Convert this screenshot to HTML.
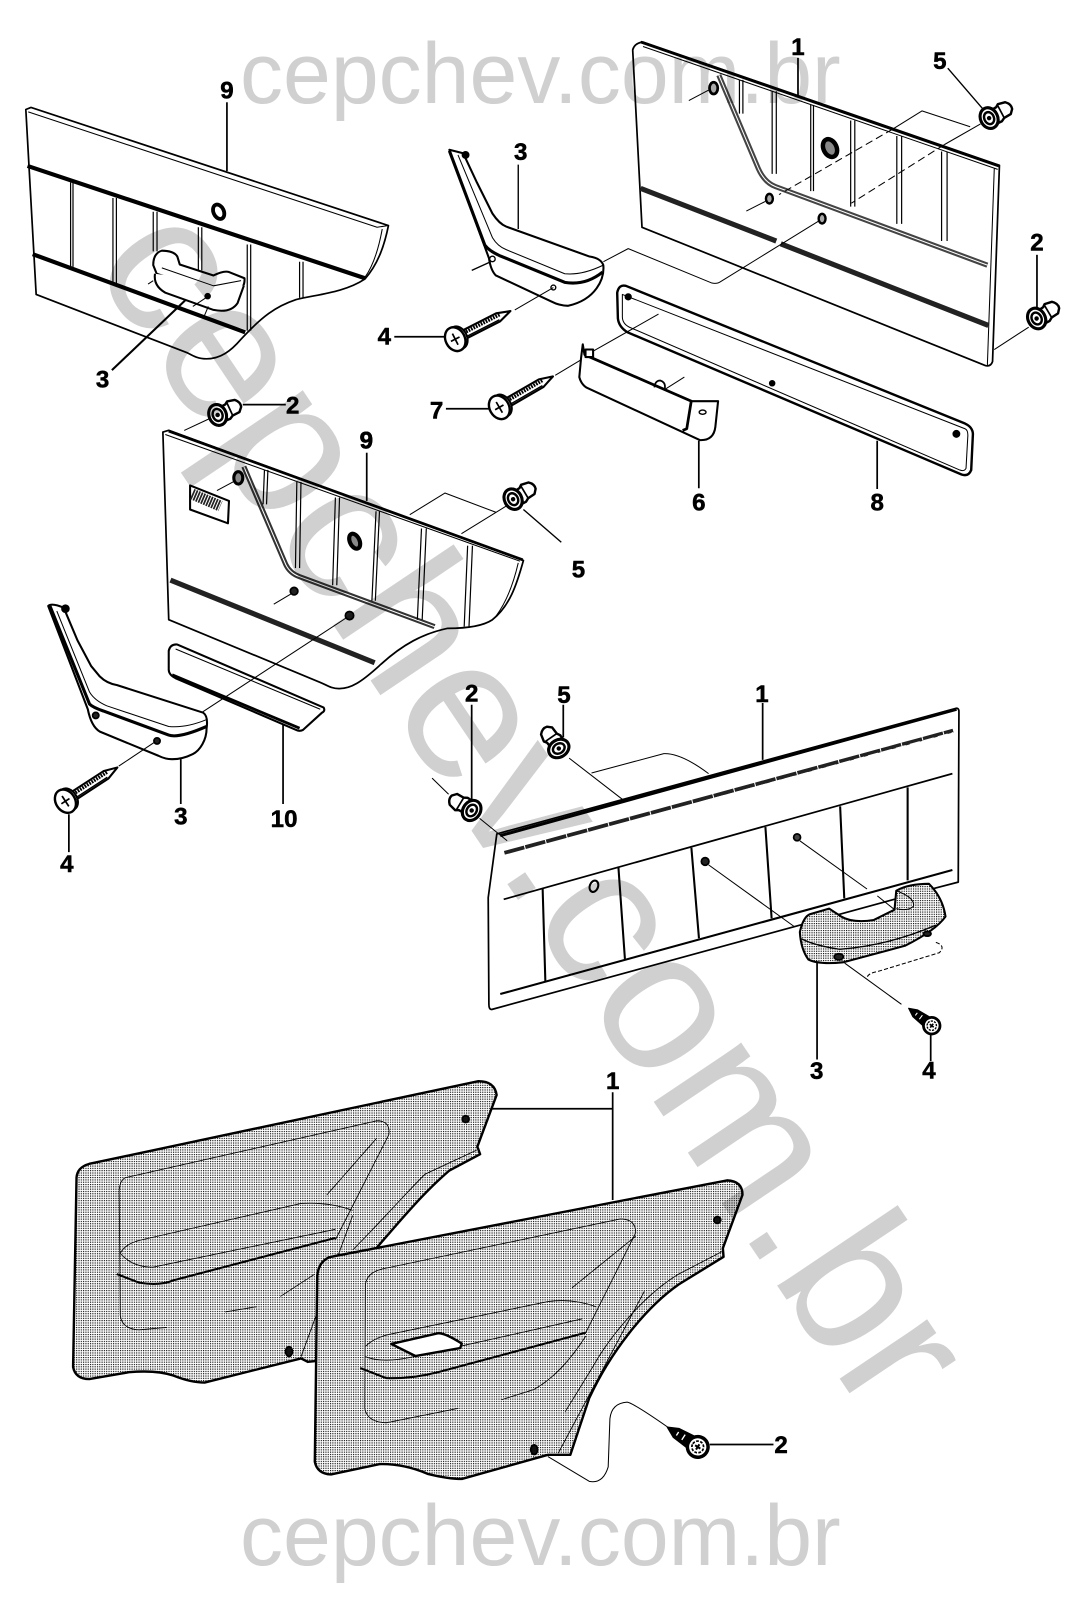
<!DOCTYPE html>
<html><head><meta charset="utf-8"><style>
html,body{margin:0;padding:0;background:#fff}
svg{display:block}
text{font-family:"Liberation Sans",sans-serif}
.n{font-weight:bold;font-size:70px;text-anchor:middle;fill:#000;stroke:#000;stroke-width:1.5}
</style></head><body>
<svg width="1078" height="1604" viewBox="0 0 1078 1604" xmlns="http://www.w3.org/2000/svg">
<defs>
<pattern id="d" patternUnits="userSpaceOnUse" width="6.7" height="6.7"><rect width="6.7" height="6.7" fill="#fff"/><rect width="3.3" height="3.3" fill="#000"/></pattern>
<g id="screw">
<path d="M20 -13 L140 -13 L180 0 L140 13 L20 13 Z" fill="#fff" stroke="#000" stroke-width="6"/>
<path d="M30 -5 L150 -5" stroke="#000" stroke-width="10" stroke-dasharray="5 3" fill="none"/>
<path d="M25 8 L140 8" stroke="#000" stroke-width="4" fill="none"/>
<ellipse cx="10" rx="25" ry="34" fill="#fff" stroke="#000" stroke-width="6"/>
<ellipse cx="0" rx="28" ry="36" fill="#fff" stroke="#000" stroke-width="7"/>
<path d="M-14 0H14M0 -18V18" stroke="#000" stroke-width="5"/>
</g>
<g id="sscrew">
<path d="M15 -20 L75 -15 L105 0 L75 15 L15 22 Z" fill="#000" stroke="#000" stroke-width="4"/>
<path d="M30 -8L30 10M50 -8L50 10M70 -6L70 6" stroke="#fff" stroke-width="4"/>
<circle r="30" fill="#fff" stroke="#000" stroke-width="10"/>
<circle r="17" fill="none" stroke="#000" stroke-width="5" stroke-dasharray="8 4"/>
<path d="M-9 0H9M0 -9V9" stroke="#000" stroke-width="6"/>
</g>
<g id="clip">
<path d="M5 -17 L32 -20 L40 -26 L62 -22 Q76 -10 72 4 L62 16 L40 18 L30 24 L5 24 Z" fill="#fff" stroke="#000" stroke-width="7"/>
<path d="M38 -24 L40 18" stroke="#000" stroke-width="5"/>
<ellipse cx="6" rx="20" ry="30" fill="#fff" stroke="#000" stroke-width="6"/>
<ellipse cx="0" rx="25" ry="31" fill="#fff" stroke="#000" stroke-width="9"/>
<ellipse rx="14" ry="18" fill="#fff" stroke="#000" stroke-width="7"/>
<circle r="4" fill="#000"/>
</g>
</defs>
<rect width="1078" height="1604" fill="#fff"/>

<!-- frame 1: top-left -->
<g transform="scale(.34435)" fill="none" stroke="#000" stroke-width="5" stroke-linejoin="round">
<path d="M75 318 L90 312 L1128 655 C1115 720 1095 770 1060 810 C1000 850 920 855 860 870 C800 890 760 920 700 985 C670 1020 640 1042 600 1042 C575 1042 560 1033 545 1025 L105 855 Z" fill="#fff"/>
<path d="M82 325 L1095 660 L1128 655 M1110 665 C1100 720 1085 770 1060 805" stroke-width="3"/>
<path d="M80 482 L1060 808 M95 738 L712 965" stroke-width="12"/>
<path d="M205 530V775M212 530V775M328 575V825M338 575V825M445 615V730M456 615V730M576 660V785M586 660V785M718 710V960M728 710V960M870 760V865M880 760V865" stroke-width="3.5"/>
<ellipse cx="635" cy="615" rx="15" ry="22" transform="rotate(-25 635 615)" stroke-width="11" fill="#fff"/>
<path d="M445 770 Q445 735 470 728 Q505 728 515 745 L522 768 L620 800 Q650 785 665 790 L710 808 Q712 835 690 845 Q650 860 620 850 L455 795 Z" fill="#fff" stroke-width="6"/>
<path d="M450 795 Q445 830 480 850 L620 900 Q670 910 690 880 L708 830" fill="#fff" stroke-width="6"/>
<path d="M470 778 L620 830 L700 815" stroke-width="3"/>
<path d="M430 825 L445 815 M560 890 L605 860 M605 890 L590 925" stroke-width="3"/>
<circle cx="603" cy="860" r="7" fill="#000"/>
<path d="M659 297V497" stroke-width="5"/>
<path d="M325 1075 L540 870" stroke-width="6"/>
<!-- armrest top center -->
<path d="M1305 435 L1345 445 L1385 530 L1430 620 Q1450 650 1470 658 L1712 745 Q1745 750 1752 770 C1756 810 1730 870 1650 888 Q1625 888 1600 875 L1440 800 Q1425 785 1420 750 Z" fill="#fff" stroke-width="6"/>
<path d="M1305 438 L1408 712 Q1420 728 1450 742 L1640 820 Q1700 830 1750 790" stroke-width="9"/>
<path d="M1330 450 L1430 690 Q1445 715 1470 725 L1640 795 Q1690 800 1752 770" stroke-width="3"/>
<circle cx="1352" cy="450" r="9" fill="#000"/>
<circle cx="1430" cy="752" r="8" fill="#fff" stroke-width="4"/>
<circle cx="1607" cy="835" r="7" fill="#fff" stroke-width="4"/>
<path d="M1505 478V665M1370 785L1425 760" stroke-width="4"/>
<path d="M1495 900 L1607 835" stroke-width="3"/>
<use href="#screw" transform="translate(1322 985) rotate(-27)"/>
<use href="#screw" transform="translate(1450 1183) rotate(-30)"/>
<use href="#clip" transform="translate(632 1205) rotate(-22)"/>
<path d="M1145 978H1290M1295 1187H1420M705 1175H830" stroke-width="5"/>
<path d="M535 1250L610 1215" stroke-width="3"/>
<text class="n" x="659" y="286">9</text>
<text class="n" x="1512" y="465">3</text>
<text class="n" x="298" y="1125">3</text>
<text class="n" x="1116" y="1001">4</text>
<text class="n" x="850" y="1201">2</text>
<text class="n" x="1268" y="1216">7</text>
<text class="n" x="1064" y="1303">9</text>
</g>

<!-- frame 2: top-right -->
<g transform="translate(538 0) scale(.34435)" fill="none" stroke="#000" stroke-width="5" stroke-linejoin="round">
<path d="M275 145 Q280 125 305 122 L1340 480 L1320 1050 Q1315 1065 1300 1062 L302 660 Z" fill="#fff"/>
<path d="M305 135 L1335 492 M1325 490 L1305 1060" stroke-width="3"/>
<path d="M298 122 L1338 482" stroke-width="8"/>
<path d="M525 218 L640 490 Q658 530 690 542 L1305 770" stroke="#444" stroke-width="15"/>
<path d="M525 218 L640 490 Q658 530 690 542 L1305 770" stroke="#fff" stroke-width="3"/>
<path d="M298 547 L692 700 M705 708 L1308 945" stroke="#222" stroke-width="15"/>
<path d="M585 232V330M595 232V330M680 265V505M692 265V505M792 305V555M800 305V555M908 350V600M920 350V600M1042 395V650M1056 395V650M1172 440V700M1188 440V700" stroke-width="3.5"/>
<ellipse cx="848" cy="430" rx="19" ry="27" transform="rotate(-25 848 430)" stroke-width="13" fill="#888"/>
<ellipse cx="510" cy="256" rx="12" ry="17" fill="#aaa" stroke-width="8"/>
<ellipse cx="672" cy="577" rx="10" ry="14" fill="#aaa" stroke-width="7"/>
<ellipse cx="825" cy="635" rx="10" ry="14" fill="#aaa" stroke-width="7"/>
<path d="M438 292L495 262M605 613L660 585" stroke-width="3"/>
<path d="M190 760 L262 722 L505 822 Q520 825 530 818 L815 642" stroke-width="3"/>
<path d="M1255 368 L1115 322 L1030 375" stroke-width="3"/>
<path d="M1030 375 L700 565" stroke-width="3" stroke-dasharray="22 12"/>
<path d="M1285 360 L1180 420" stroke-width="3"/>
<path d="M1180 420 L910 590" stroke-width="3" stroke-dasharray="22 12"/>
<use href="#clip" transform="translate(1310 343) rotate(-25)"/>
<use href="#clip" transform="translate(1448 925) rotate(-28)"/>
<path d="M1190 198L1295 320" stroke-width="4"/>
<path d="M1449 740V895" stroke-width="5"/>
<path d="M1325 1015L1425 950" stroke-width="3"/>
<path d="M755 168V282" stroke-width="5"/>
<!-- strip 8 -->
<path d="M230 850 Q235 825 255 830 L1240 1230 Q1262 1240 1263 1260 L1258 1365 Q1250 1385 1230 1378 L260 965 Q235 950 232 925 Z" fill="#fff" stroke-width="7"/>
<path d="M245 855 L1240 1245 Q1250 1250 1248 1270 L1243 1360 Q1238 1370 1225 1365 L265 950 Q245 940 245 920 Z" stroke-width="3"/>
<circle cx="262" cy="862" r="8" fill="#000"/><circle cx="1215" cy="1260" r="9" fill="#000"/><circle cx="680" cy="1113" r="7" fill="#000"/>
<path d="M350 912 L160 1020 M125 1045 L50 1090" stroke-width="3"/>
<!-- part 6 -->
<path d="M130 1000 L125 1040 L120 1095 Q125 1115 140 1125 L470 1278 Q510 1280 515 1240 L523 1165 L445 1165 L135 1030 Z" fill="#fff" stroke-width="6"/>
<path d="M135 1030 L445 1165 L432 1245 L420 1250" stroke-width="8"/>
<ellipse cx="478" cy="1197" rx="10" ry="6" stroke-width="4"/>
<rect x="138" y="1015" width="22" height="22" fill="#fff" stroke-width="6"/>
<path d="M338 1125 Q340 1105 355 1105 Q372 1110 368 1130" stroke-width="5"/>
<path d="M370 1130L425 1095" stroke-width="3"/>
<path d="M467 1280V1418M985 1280V1420" stroke-width="5"/>
<text class="n" x="755" y="160">1</text>
<text class="n" x="1167" y="201">5</text>
<text class="n" x="1449" y="728">2</text>
<text class="n" x="467" y="1482">6</text>
<text class="n" x="985" y="1482">8</text>
</g>

<!-- frame 3: middle-left -->
<g transform="translate(0 420) scale(.34435)" fill="none" stroke="#000" stroke-width="5" stroke-linejoin="round">
<path d="M473 35 L490 30 L1520 408 C1500 480 1480 540 1430 580 C1400 600 1350 605 1300 605 C1230 620 1170 650 1100 715 C1050 760 1020 780 985 780 C960 780 950 770 930 762 L490 580 Z" fill="#fff"/>
<path d="M480 42 L1510 410 M1505 415 C1490 480 1470 530 1440 570" stroke-width="3"/>
<path d="M490 32 L1518 406" stroke-width="8"/>
<path d="M708 135 L830 420 Q842 445 870 455 L1262 600" stroke="#333" stroke-width="15"/>
<path d="M708 135 L830 420 Q842 445 870 455 L1262 600" stroke="#fff" stroke-width="3"/>
<path d="M495 465 L1088 705" stroke="#222" stroke-width="15"/>
<path d="M768 145L764 245M778 145L774 245M862 180L858 430M874 180L870 430M974 225L966 480M986 225L978 480M1092 265L1080 525M1102 265L1090 525M1224 315L1212 580M1238 315L1226 580M1358 365L1348 600M1372 365L1362 600" stroke-width="3.5"/>
<ellipse cx="1030" cy="352" rx="14" ry="23" transform="rotate(-25 1030 352)" stroke-width="12" fill="#888"/>
<path d="M552 190 L665 235 L662 300 L552 260 Z" fill="#fff" stroke-width="6"/>
<path d="M558 215 L640 250" stroke="#222" stroke-width="32" stroke-dasharray="5 3"/>
<ellipse cx="692" cy="168" rx="13" ry="18" fill="#aaa" stroke-width="9"/>
<circle cx="854" cy="497" r="11" fill="#222"/>
<circle cx="1015" cy="568" r="12" fill="#222"/>
<path d="M630 205L680 178M795 535L845 505M1340 330L1470 250M1190 275L1292 212L1440 268" stroke-width="3"/>
<path d="M1065 95V235" stroke-width="5"/>
<!-- plate 10 -->
<path d="M490 670 Q495 650 515 652 L940 835 Q945 845 935 850 L880 900 Q870 905 860 900 L510 750 Q490 740 490 725 Z" fill="#fff" stroke-width="6"/>
<path d="M510 665 L930 840" stroke-width="3"/>
<path d="M500 740 L870 895" stroke-width="8"/>
<path d="M1005 575L585 850" stroke-width="3"/>
<path d="M822 885V1115M525 985V1115M200 1145V1255" stroke-width="5"/>
<!-- armrest -->
<path d="M140 540 Q150 530 185 545 L225 640 L265 715 L290 745 Q310 765 340 770 L590 850 Q605 860 600 895 C600 930 580 960 560 970 Q530 985 500 985 Q480 985 460 975 L290 905 Q265 890 255 840 Z" fill="#fff" stroke-width="6"/>
<path d="M145 540 L260 825 Q270 835 300 845 L490 915 Q520 925 600 890" stroke-width="9"/>
<path d="M165 555 L260 790 Q275 815 310 830 L490 890 Q540 895 600 870" stroke-width="3"/>
<circle cx="190" cy="548" r="10" fill="#000"/>
<circle cx="278" cy="858" r="9" fill="#222"/>
<circle cx="456" cy="932" r="9" fill="#222"/>
<path d="M345 1005L450 935" stroke-width="3"/>
<use href="#screw" transform="translate(190 1107) rotate(-33)"/>
<use href="#clip" transform="translate(1490 230) rotate(-28)"/>
<path d="M1520 260L1630 355" stroke-width="4"/>
<text class="n" x="1680" y="458">5</text>
<text class="n" x="1064" y="83">9</text>
<text class="n" x="525" y="1175">3</text>
<text class="n" x="825" y="1182">10</text>
<text class="n" x="194" y="1312">4</text>
</g>

<!-- frame 4: middle-right -->
<g transform="translate(440 660) scale(.34435)" fill="none" stroke="#000" stroke-width="5" stroke-linejoin="round">
<path d="M165 505 L1500 140 Q1507 140 1507 150 L1505 645 L1440 662 L150 1015 Q142 1015 142 1000 L140 690 Z" fill="#fff"/>
<path d="M175 510 L1500 143" stroke-width="9"/>
<path d="M187 560 L1490 205" stroke="#222" stroke-width="11" stroke-dasharray="60 3"/>
<path d="M190 568 L1490 210" stroke="#fff" stroke-width="2" stroke-dasharray="30 12"/>
<path d="M185 695 L1488 330" stroke-width="5"/>
<path d="M175 970 L1488 610" stroke-width="6"/>
<path d="M298 662L306 935M518 600L537 868M730 545L752 808M945 485L963 750M1162 425L1174 692M1358 370V640" stroke-width="6"/>
<ellipse cx="447" cy="657" rx="12" ry="17" transform="rotate(20 447 657)" stroke-width="6" fill="#fff"/>
<circle cx="770" cy="585" r="11" fill="#222"/>
<circle cx="1037" cy="515" r="10" fill="#444"/>
<path d="M780 595L1030 775M1045 525L1240 665M1270 685L1320 725" stroke-width="3"/>
<path d="M937 125V290M1095 880V1160M1425 1085V1165M358 130V225M92 130V410" stroke-width="5"/>
<path d="M1045 790 Q1055 745 1075 738 L1130 722 L1165 745 Q1200 765 1260 755 L1320 725 L1325 670 Q1360 650 1420 650 Q1460 690 1468 745 Q1440 785 1350 830 L1170 878 Q1100 885 1070 870 Q1048 840 1045 790 Z" fill="url(#d)" stroke-width="6"/>
<path d="M1050 810 Q1090 830 1160 840 Q1300 830 1440 770" stroke-width="4"/>
<path d="M1325 670 Q1380 690 1375 715 Q1360 730 1325 722" stroke-width="3"/>
<ellipse cx="1158" cy="862" rx="13" ry="9" fill="#222"/>
<ellipse cx="1415" cy="795" rx="11" ry="7" fill="#222"/>
<path d="M1440 820 Q1470 830 1450 850 L1270 905 Q1240 910 1240 925" stroke-width="3" stroke-dasharray="12 6"/>
<path d="M1175 880L1340 1000" stroke-width="3"/>
<g transform="translate(1428 1062) rotate(217) scale(.8)"><use href="#sscrew"/></g>
<use href="#clip" transform="translate(92 437) rotate(214)"/>
<use href="#clip" transform="translate(345 257) rotate(238)"/>
<path d="M375 285L530 405M440 328L650 272Q700 270 780 330M115 460L195 525M-23 343L25 390" stroke-width="3"/>
<text class="n" x="92" y="120">2</text>
<text class="n" x="360" y="125">5</text>
<text class="n" x="935" y="122">1</text>
<text class="n" x="1094" y="1217">3</text>
<text class="n" x="1420" y="1215">4</text>
</g>

<!-- frame 6: bottom back panel -->
<g transform="translate(60 1064) scale(.34435)" fill="none" stroke="#000" stroke-width="5" stroke-linejoin="round">
<path d="M48 330 Q50 300 85 290 L1215 50 Q1262 50 1268 90 L1212 240 L1220 262 L1130 310 C1060 370 1000 440 910 545 L780 600 L750 862 L720 865 L700 855 L420 925 Q380 925 330 905 Q280 888 200 895 L85 915 Q45 915 38 880 Z" fill="url(#d)" stroke-width="7"/>
<path d="M190 330 L920 165 Q960 165 955 205 L800 510 M190 330 Q170 340 172 380 L175 730 Q180 770 230 772 L310 765 M480 720L570 705M640 675L740 610" stroke-width="2.5"/>
<path d="M175 550 Q210 590 270 590 L800 480 M175 550 Q190 520 240 510 L700 405 Q780 400 850 425" stroke-width="2.5"/>
<path d="M165 610 L230 635 Q290 645 330 628 L800 505" stroke-width="6"/>
<path d="M920 215L775 380M1210 250L1060 320C1000 380 920 470 850 540M850 440L700 850" stroke-width="2.5"/>
<circle cx="1178" cy="160" r="10" fill="#111"/>
<ellipse cx="665" cy="835" rx="10" ry="14" fill="#111"/>
</g>

<!-- frame 7: bottom front panel -->
<g transform="translate(300 1064) scale(.34435)" fill="none" stroke="#000" stroke-width="5" stroke-linejoin="round">
<path d="M555 130H908M908 82V395" stroke-width="5"/>
<path d="M50 615 Q55 570 90 560 L1240 338 Q1285 340 1285 380 L1228 535 L1230 560 L1100 640 C1000 710 900 840 840 970 L785 1135 L720 1135 L470 1205 Q430 1205 370 1190 Q300 1160 230 1162 L90 1192 Q50 1190 43 1155 Z" fill="url(#d)" stroke-width="7"/>
<path d="M190 640 Q195 605 240 595 L930 450 Q975 450 975 490 L830 780 M190 640 L188 1000 Q195 1040 250 1042 L460 1000 M585 975 L680 945 Q760 900 830 790" stroke-width="2.5"/>
<path d="M190 820 Q215 795 260 785 L720 690 Q790 680 860 705 M190 850 Q240 870 330 850 L820 740" stroke-width="2.5"/>
<path d="M175 883 L250 912 Q320 915 400 895 L830 780" stroke-width="6"/>
<path d="M265 813 L400 782 Q420 780 470 812 L465 825 L335 848 Z" fill="#fff" stroke-width="7"/>
<path d="M975 500L790 650M1225 545L1100 610C1000 670 900 790 850 880L770 1010M1000 660L750 1130" stroke-width="2.5"/>
<circle cx="1212" cy="453" r="10" fill="#111"/>
<ellipse cx="680" cy="1120" rx="10" ry="14" fill="#111"/>
<path d="M720 1140 L840 1212 Q880 1220 895 1170 L900 1030 Q905 985 950 982 Q970 985 1090 1070" stroke-width="3"/>
<g transform="translate(1155 1112) rotate(213)"><use href="#sscrew"/></g>
<path d="M1190 1105H1375" stroke-width="5"/>
<text class="n" x="908" y="72">1</text>
<text class="n" x="1397" y="1130">2</text>
</g>

<!-- watermark -->
<g fill="#d0d0d0" style="mix-blend-mode:multiply" font-family="'Liberation Sans',sans-serif">
<text x="240" y="103" font-size="86">cepchev.com.br</text>
<text x="240" y="1565" font-size="86">cepchev.com.br</text>
<text x="90" y="263" font-size="200" transform="rotate(56.1 90 263)">cepchev.com.br</text>
</g>
</svg>
</body></html>
